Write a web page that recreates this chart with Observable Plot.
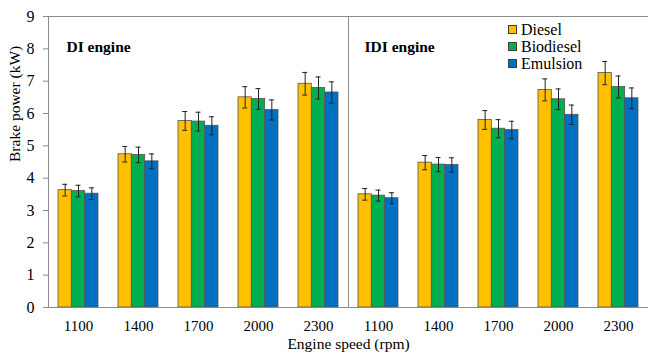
<!DOCTYPE html>
<html>
<head>
<meta charset="utf-8">
<script src="https://cdn.jsdelivr.net/npm/d3@7"></script>
<script src="https://cdn.jsdelivr.net/npm/@observablehq/plot@0.6"></script>
<style>
  html, body { margin: 0; padding: 0; background: #fff; }
  #chart { position: relative; width: 648px; height: 355px; font-family: 'Liberation Serif'; }
  #chart svg, #chart svg text { font-family: 'Liberation Serif' !important; }
  .legend { position: absolute; left: 508px; top: 21px; font-size: 16px; line-height: 17px; color: #000; font-family: 'Liberation Serif'; }
  .legend div { display: flex; align-items: center; height: 17px; }
  .legend span.sw { display: inline-block; width: 7px; height: 7px; border: 1px solid #404040; margin-right: 4px; }
</style>
</head>
<body>
<div id="chart"></div>
<script>
const engines = ["DI", "IDI"];
const speeds = [1100, 1400, 1700, 2000, 2300];
const series = ["Diesel", "Biodiesel", "Emulsion"];
const colors = ["#FFC000", "#00B050", "#0070C0"];
// values in order DI 1100..2300, IDI 1100..2300
const diesel    = [3.63, 4.74, 5.77, 6.50, 6.92, 3.50, 4.48, 5.80, 6.73, 7.25];
const biodiesel = [3.60, 4.72, 5.75, 6.45, 6.79, 3.46, 4.42, 5.53, 6.44, 6.82];
const emulsion  = [3.52, 4.52, 5.62, 6.11, 6.65, 3.38, 4.41, 5.49, 5.96, 6.47];
const dieselErr    = [0.18, 0.24, 0.29, 0.33, 0.35, 0.18, 0.22, 0.29, 0.34, 0.36];
const biodieselErr = [0.18, 0.24, 0.29, 0.32, 0.34, 0.17, 0.22, 0.28, 0.32, 0.34];
const emulsionErr  = [0.18, 0.23, 0.28, 0.31, 0.33, 0.17, 0.22, 0.27, 0.30, 0.32];
const yTicks = [0, 1, 2, 3, 4, 5, 6, 7, 8, 9];
const panelLabels = ["DI engine", "IDI engine"];

const keys = engines.flatMap(e => speeds.map(s => `${e}-${s}`));
const valueArrays = [diesel, biodiesel, emulsion];
const errArrays = [dieselErr, biodieselErr, emulsionErr];
const rows = series.map((name, si) => keys.map((k, i) => ({
  key: k, series: name, value: valueArrays[si][i], err: errArrays[si][i]
})));

const bandW = 40, barW = bandW / 3;
const offsets = [-barW, 0, barW];
const fontStack = "Liberation Serif";

const marks = [];
series.forEach((name, si) => {
  marks.push(Plot.barY(rows[si], {
    x: "key", y: "value", fill: colors[si], stroke: "#555", strokeWidth: 0.8,
    insetLeft: barW, insetRight: barW, dx: offsets[si]
  }));
});
series.forEach((name, si) => {
  marks.push(Plot.ruleX(rows[si], {x: "key", y1: d => d.value - d.err, y2: d => d.value + d.err, stroke: "#222", strokeWidth: 1, dx: offsets[si]}));
  marks.push(Plot.tickY(rows[si], {x: "key", y: d => d.value - d.err, stroke: "#222", strokeWidth: 1, dx: offsets[si], insetLeft: 17.5, insetRight: 17.5}));
  marks.push(Plot.tickY(rows[si], {x: "key", y: d => d.value + d.err, stroke: "#222", strokeWidth: 1, dx: offsets[si], insetLeft: 17.5, insetRight: 17.5}));
});

const plot = Plot.plot({
  width: 648,
  height: 355,
  marginLeft: 48,
  marginRight: 0,
  marginTop: 16,
  marginBottom: 48,
  style: {fontFamily: fontStack, fontSize: "15px", color: "#000", background: "#fff"},
  x: {domain: keys, paddingInner: 1/3, paddingOuter: 1/6, label: null},
  y: {domain: [0, 9], label: null},
  marks: [
    ...marks,
    Plot.ruleY([0, 9], {stroke: "#8c8c8c", strokeWidth: 1}),
    Plot.ruleX([keys[0]], {stroke: "#8c8c8c", strokeWidth: 1, dx: -30}),
    Plot.ruleX([keys[4]], {stroke: "#8c8c8c", strokeWidth: 1, dx: 30}),
    Plot.axisY({ticks: yTicks, tickSize: 5, tickPadding: 9, stroke: "#8c8c8c", fontSize: 16, fontFamily: fontStack, label: null}),
    Plot.axisX({tickSize: 0, tickPadding: 13, fontSize: 15, fontFamily: fontStack, tickFormat: d => d.split("-")[1], label: null}),
    Plot.text(["Brake power (kW)"], {frameAnchor: "left", rotate: -90, dx: -33, fontSize: 15.5, fontFamily: fontStack, text: d => d}),
    Plot.text(["Engine speed (rpm)"], {frameAnchor: "bottom", dy: 41, dx: 0, fontSize: 15.5, fontFamily: fontStack, text: d => d}),
    Plot.text([panelLabels[0]], {frameAnchor: "top-left", dx: 18, dy: 24, fontSize: 15.5, fontWeight: "bold", fontFamily: fontStack, textAnchor: "start", text: d => d}),
    Plot.text([{k: keys[5], t: panelLabels[1]}], {x: "k", frameAnchor: "top", dx: -14, dy: 24, fontSize: 15.5, fontWeight: "bold", fontFamily: fontStack, textAnchor: "start", text: "t"})
  ]
});

const chart = document.getElementById("chart");
chart.appendChild(plot);
const legend = document.createElement("div");
legend.className = "legend";
series.forEach((name, si) => {
  const row = document.createElement("div");
  const sw = document.createElement("span");
  sw.className = "sw";
  sw.style.background = colors[si];
  row.appendChild(sw);
  row.appendChild(document.createTextNode(name));
  legend.appendChild(row);
});
chart.appendChild(legend);
</script>
</body>
</html>
